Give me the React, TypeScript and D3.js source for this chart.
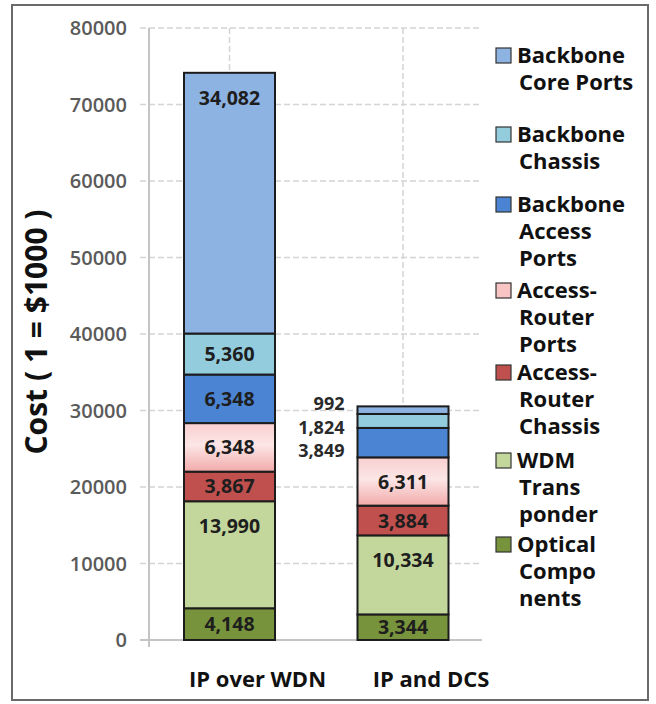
import React from "react";
import * as d3 from "d3";

// Network scenarios compared
const categories = ["IP over WDN", "IP and DCS"];

// Cost components, stacked bottom to top
const seriesKeys = [
  "Optical Components",
  "WDM Transponder",
  "Access-Router Chassis",
  "Access-Router Ports",
  "Backbone Access Ports",
  "Backbone Chassis",
  "Backbone Core Ports",
];

// Values per component (1 = $1000), one entry per scenario
const opticalComponents = [4148, 3344];
const wdmTransponder = [13990, 10334];
const accessRouterChassis = [3867, 3884];
const accessRouterPorts = [6348, 6311];
const backboneAccessPorts = [6348, 3849];
const backboneChassis = [5360, 1824];
const backboneCorePorts = [34082, 992];

const yTicks = [0, 10000, 20000, 30000, 40000, 50000, 60000, 70000, 80000];

// Legend entries top to bottom, split into display lines
const legendItems = [
  { key: "Backbone Core Ports", lines: ["Backbone", "Core Ports"] },
  { key: "Backbone Chassis", lines: ["Backbone", "Chassis"] },
  { key: "Backbone Access Ports", lines: ["Backbone", "Access", "Ports"] },
  { key: "Access-Router Ports", lines: ["Access-", "Router", "Ports"] },
  { key: "Access-Router Chassis", lines: ["Access-", "Router", "Chassis"] },
  { key: "WDM Transponder", lines: ["WDM", "Trans", "ponder"] },
  { key: "Optical Components", lines: ["Optical", "Compo", "nents"] },
];

const colors: Record<string, string> = {
  "Optical Components": "#77933c",
  "WDM Transponder": "#c3d69b",
  "Access-Router Chassis": "#c0504d",
  "Access-Router Ports": "url(#pinkGrad)",
  "Backbone Access Ports": "#4a84d2",
  "Backbone Chassis": "#93cddd",
  "Backbone Core Ports": "#8db3e2",
};
const legendColors: Record<string, string> = {
  ...colors,
  "Access-Router Ports": "#f8c4c4",
};

const seriesValues: Record<string, number[]> = {
  "Optical Components": opticalComponents,
  "WDM Transponder": wdmTransponder,
  "Access-Router Chassis": accessRouterChassis,
  "Access-Router Ports": accessRouterPorts,
  "Backbone Access Ports": backboneAccessPorts,
  "Backbone Chassis": backboneChassis,
  "Backbone Core Ports": backboneCorePorts,
};

const W = 656;
const H = 704;
const FONT = "'Open Sans', 'Noto Sans', sans-serif";

export default function App() {
  const rows = categories.map((c, i) => {
    const r: Record<string, any> = { category: c };
    seriesKeys.forEach((k) => (r[k] = seriesValues[k][i]));
    return r;
  });
  const stacked = d3.stack<any>().keys(seriesKeys)(rows);

  const y = d3.scaleLinear().domain([0, 80000]).range([640, 28]);
  const x = d3.scalePoint<string>().domain(categories).range([229.5, 403]);
  const barW = 91;
  const fmt = d3.format(",");

  const gridLeft = 140;
  const gridRight = 482;

  // segments thinner than this get their labels set beside the bar
  const smallLimit = 3000;

  return (
    <svg
      width={W}
      height={H}
      style={{ position: "absolute", left: 0, top: 0, background: "#fff" }}
      fontFamily={FONT}
    >
      <defs>
        <linearGradient id="pinkGrad" x1="0" y1="0" x2="0" y2="1">
          <stop offset="0%" stopColor="#f9cfcf" />
          <stop offset="45%" stopColor="#fce6e6" />
          <stop offset="100%" stopColor="#f2aaaa" />
        </linearGradient>
      </defs>
      <rect x={0} y={0} width={W} height={H} fill="#fff" />
      {/* outer frame */}
      <rect x={12} y={5} width={636} height={695} fill="none" stroke="#6a6a6a" strokeWidth={2} />

      {/* horizontal gridlines */}
      {yTicks.slice(1).map((t) => (
        <line
          key={"g" + t}
          x1={gridLeft}
          x2={gridRight}
          y1={y(t)}
          y2={y(t)}
          stroke="#d4d4d4"
          strokeWidth={1.5}
          strokeDasharray="6,3"
        />
      ))}
      {/* vertical gridlines at category centres */}
      {categories.map((c) => (
        <line
          key={"v" + c}
          x1={x(c)}
          x2={x(c)}
          y1={y(80000)}
          y2={y(0)}
          stroke="#d4d4d4"
          strokeWidth={1.5}
          strokeDasharray="6,3"
        />
      ))}
      {/* axis lines */}
      <line x1={149} x2={149} y1={y(80000)} y2={647} stroke="#c4c4c4" strokeWidth={2} />
      <line x1={gridLeft} x2={gridRight} y1={y(0)} y2={y(0)} stroke="#c4c4c4" strokeWidth={2} />

      {/* y tick labels */}
      {yTicks.map((t) => (
        <text
          key={"t" + t}
          x={127}
          y={y(t) + 7}
          textAnchor="end"
          fontSize={20}
          fontWeight={600}
          fill="#5a5a5a"
        >
          {t}
        </text>
      ))}

      {/* y axis title */}
      <text
        transform={`translate(47, 332) rotate(-90)`}
        textAnchor="middle"
        fontSize={30}
        fontWeight={700}
        fill="#111"
      >
        Cost ( 1 = $1000 )
      </text>

      {/* stacked bars */}
      {stacked.map((s) => (
        <g key={s.key}>
          {s.map((d, i) => {
            const cx = x(categories[i]) as number;
            return (
              <rect
                key={i}
                x={cx - barW / 2}
                y={y(d[1])}
                width={barW}
                height={y(d[0]) - y(d[1])}
                fill={colors[s.key]}
                stroke="#1c1c1c"
                strokeWidth={2}
              />
            );
          })}
        </g>
      ))}

      {/* value labels inside segments */}
      {stacked.map((s) =>
        s.map((d, i) => {
          const v = d[1] - d[0];
          if (v < smallLimit) return null;
          if (s.key === "Backbone Access Ports" && v < 5000) return null;
          const cx = x(categories[i]) as number;
          const top = y(d[1]);
          const mid = (y(d[0]) + y(d[1])) / 2;
          const cy = Math.min(mid, top + 25);
          return (
            <text
              key={s.key + i}
              x={cx}
              y={cy + 7}
              textAnchor="middle"
              fontSize={19.5}
              fontWeight={700}
              fill="#1e1e1e"
            >
              {fmt(v)}
            </text>
          );
        })
      )}

      {/* labels for the thin upper segments of the second bar, listed beside it */}
      {(() => {
        const i = 1;
        const cx = x(categories[i]) as number;
        const topKeys = ["Backbone Core Ports", "Backbone Chassis", "Backbone Access Ports"];
        const total = d3.sum(seriesKeys, (k) => seriesValues[k][i]);
        const top = y(total);
        return topKeys.map((k, j) => (
          <text
            key={"side" + k}
            x={cx - barW / 2 - 13}
            y={top - 3 + j * 23.5 + 7}
            textAnchor="end"
            fontSize={18}
            fontWeight={700}
            fill="#2a2a2a"
          >
            {fmt(seriesValues[k][i])}
          </text>
        ));
      })()}

      {/* category labels */}
      {categories.map((c) => (
        <text
          key={"c" + c}
          x={(x(c) as number) + 28}
          y={687}
          textAnchor="middle"
          fontSize={22}
          fontWeight={700}
          fill="#111"
        >
          {c}
        </text>
      ))}

      {/* legend */}
      {legendItems.map((item, gi) => {
        const starts = [63, 142, 212, 298, 380, 468, 552];
        const base = starts[gi];
        return (
          <g key={"l" + item.key}>
            <rect
              x={496}
              y={base - 15}
              width={15}
              height={15}
              fill={legendColors[item.key]}
              stroke="#333"
              strokeWidth={1.2}
            />
            {item.lines.map((ln, li) => (
              <text
                key={li}
                x={li === 0 ? 517 : 519}
                y={base + li * 27}
                fontSize={22}
                fontWeight={700}
                fill="#111"
              >
                {ln}
              </text>
            ))}
          </g>
        );
      })}
    </svg>
  );
}
